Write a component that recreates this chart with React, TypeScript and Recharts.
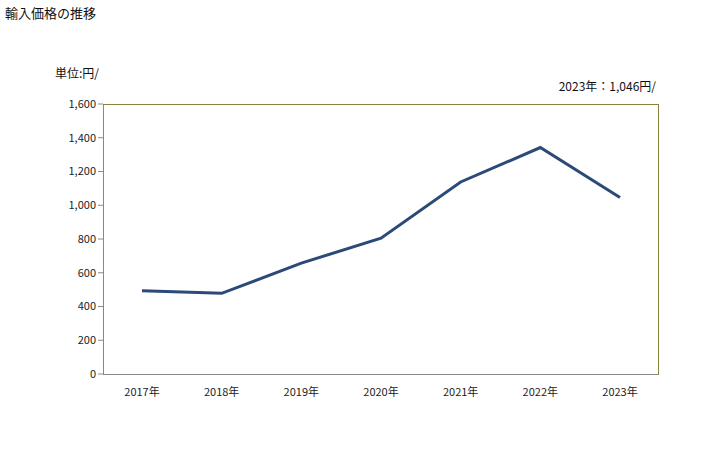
import { LineChart, Line, XAxis, YAxis } from 'recharts'

// 輸入価格の推移 (単位: 円)
const years = ['2017年', '2018年', '2019年', '2020年', '2021年', '2022年', '2023年']
const prices = [493, 478, 657, 805, 1138, 1342, 1046]
const yTicks = [0, 200, 400, 600, 800, 1000, 1200, 1400, 1600]

const data = years.map((year, i) => ({ year, price: prices[i] }))

const font = '"Noto Sans CJK JP", "Noto Sans", sans-serif'
const tickStyle = { fontSize: 11, fill: '#222', fontFamily: font }

export default function App() {
  return (
    <div style={{ position: 'absolute', left: 0, top: 0, width: 728, height: 450, background: '#fff', fontFamily: font }}>
      <div style={{ position: 'absolute', left: 5, top: 3, fontSize: 13, color: '#111' }}>輸入価格の推移</div>
      <div style={{ position: 'absolute', left: 55, top: 64, fontSize: 12, color: '#111' }}>単位:円/</div>
      <div style={{ position: 'absolute', right: 728 - 656, top: 77, fontSize: 12, color: '#111' }}>2023年：1,046円/</div>
      {/* plot frame: gray left/bottom, olive top/right */}
      <div
        style={{
          position: 'absolute',
          left: 103,
          top: 104,
          width: 556,
          height: 271,
          boxSizing: 'border-box',
          borderTop: '1px solid #8c8240',
          borderRight: '1px solid #8c8240',
          borderLeft: '1px solid #888',
          borderBottom: '1px solid #888',
        }}
      />
      <LineChart width={728} height={450} data={data} margin={{ top: 104, right: 70, bottom: 46, left: 0 }}>
        <XAxis
          dataKey="year"
          tick={tickStyle}
          tickLine={false}
          axisLine={false}
          padding={{ left: 39, right: 38 }}
          height={30}
          tickMargin={8}
        />
        <YAxis
          domain={[0, 1600]}
          ticks={yTicks}
          tickFormatter={(v: number) => v.toLocaleString('en-US')}
          tick={tickStyle}
          tickLine={{ stroke: '#888' }}
          tickSize={5}
          axisLine={false}
          width={103}
          interval={0}
        />
        <Line
          dataKey="price"
          stroke="#2b4a78"
          strokeWidth={3}
          dot={false}
          isAnimationActive={false}
        />
      </LineChart>
    </div>
  )
}
